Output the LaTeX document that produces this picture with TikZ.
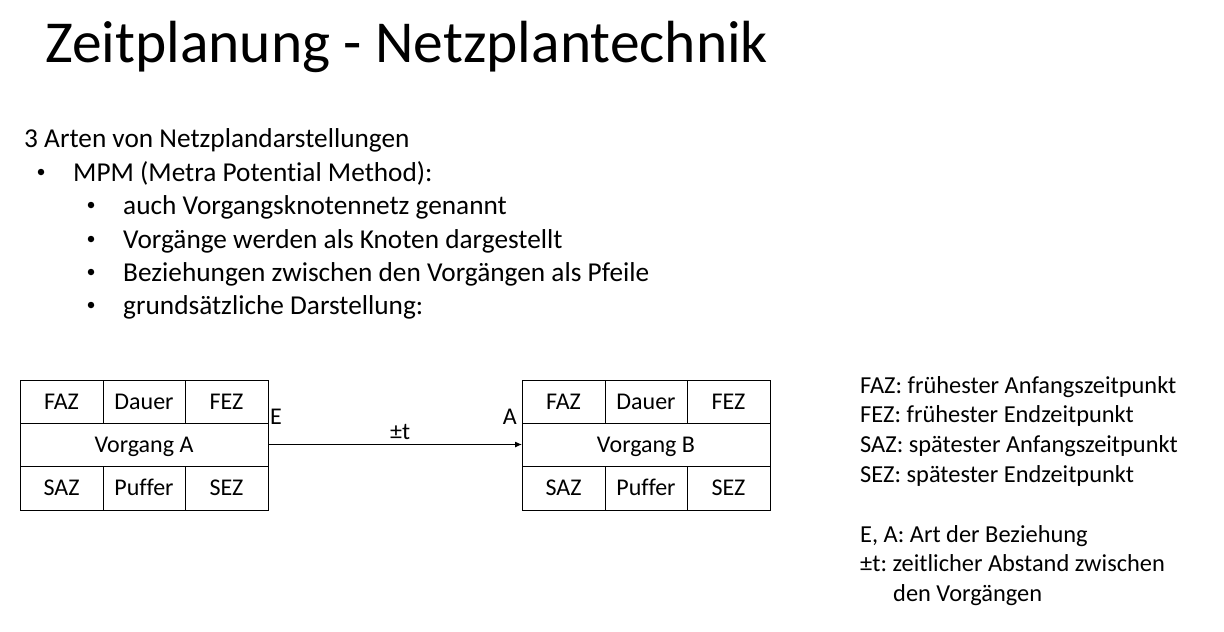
\documentclass[tikz,border=0pt]{standalone}
\usepackage{fontspec}
\setmainfont{Carlito}[Ligatures=NoCommon]
\usetikzlibrary{arrows.meta}
\frenchspacing

% A process box of the activity-on-node network: three cells on top,
% the name across the middle, three cells at the bottom.
\newcommand\vorgangbox[3]{%
  \node[cell, minimum width=83pt, anchor=north west] (#1faz) at (#2,380) {FAZ};
  \node[cell, minimum width=82pt, anchor=north west] (#1dauer) at (#1faz.north east) {Dauer};
  \node[cell, minimum width=83pt, anchor=north west] (#1fez) at (#1dauer.north east) {FEZ};
  \node[cell, minimum width=248pt, anchor=north west] (#1name) at (#1faz.south west) {#3};
  \node[cell, minimum width=83pt, minimum height=44pt, anchor=north west] (#1saz) at (#1name.south west) {SAZ};
  \node[cell, minimum width=82pt, minimum height=44pt, anchor=north west] (#1puffer) at (#1saz.north east) {Puffer};
  \node[cell, minimum width=83pt, minimum height=44pt, anchor=north west] (#1sez) at (#1puffer.north east) {SEZ};
}

\begin{document}
\begin{tikzpicture}[x=1pt, y=-1pt,
  cell/.style={draw=black, line width=1pt, inner sep=0pt, outer sep=0pt, minimum height=43pt,
    text height=15.5pt, text depth=0pt, font=\fontsize{24}{28}\selectfont},
  body/.style={anchor=base west, inner sep=0pt, font=\fontsize{27.3}{33}\selectfont},
  dot/.style={circle, fill=black, inner sep=0pt, minimum size=6.5pt},
  legend/.style={anchor=base west, inner sep=0pt, font=\fontsize{24.4}{30}\selectfont},
  mark label/.style={inner sep=0pt, font=\fontsize{24}{28}\selectfont}]
\useasboundingbox[fill=white] (0,0) rectangle (1224,632);

% title
\node[anchor=base west, inner sep=0pt, font=\fontsize{59.5}{70}\selectfont] (title) at (45,62) {Zeitplanung - Netzplantechnik};

% bullet list
\node[body] (l0) at (24,147) {3 Arten von Netzplandarstellungen};
\node[dot] (b1) at (41,172) {};
\node[body] (l1) at (73,181) {MPM (Metra Potential Method):};
\node[dot] (b2) at (91,205) {};
\node[body] (l2) at (123,214) {auch Vorgangsknotennetz genannt};
\node[dot] (b3) at (91,239) {};
\node[body] (l3) at (123,248) {Vorgänge werden als Knoten dargestellt};
\node[dot] (b4) at (91,272) {};
\node[body] (l4) at (123,281) {Beziehungen zwischen den Vorgängen als Pfeile};
\node[dot] (b5) at (91,305) {};
\node[body] (l5) at (123,314) {grundsätzliche Darstellung:};

% the two process boxes
\vorgangbox{a}{20}{Vorgang A}
\vorgangbox{b}{522}{Vorgang B}

% relation arrow between them
\draw[line width=1pt, -{Latex[length=7pt,width=6pt]}] (aname.east) -- (bname.west)
  node[pos=0.52, above=4pt, mark label] (dt) {±t};
\node[mark label, anchor=base west] (elabel) at ([xshift=2pt, yshift=-1pt]aname.north east) {E};
\node[mark label, anchor=base east] (alabel) at ([xshift=-5pt, yshift=-1pt]bname.north west) {A};

% legend
\node[legend] (g1) at (860,393) {FAZ: frühester Anfangszeitpunkt};
\node[legend] (g2) at (860,422) {FEZ: frühester Endzeitpunkt};
\node[legend] (g3) at (860,452) {SAZ: spätester Anfangszeitpunkt};
\node[legend] (g4) at (860,482) {SEZ: spätester Endzeitpunkt};
\node[legend] (g5) at (860,542) {E, A: Art der Beziehung};
\node[legend] (g6) at (860,571) {±t: zeitlicher Abstand zwischen};
\node[legend] (g7) at (893,601) {den Vorgängen};
\end{tikzpicture}
\end{document}
